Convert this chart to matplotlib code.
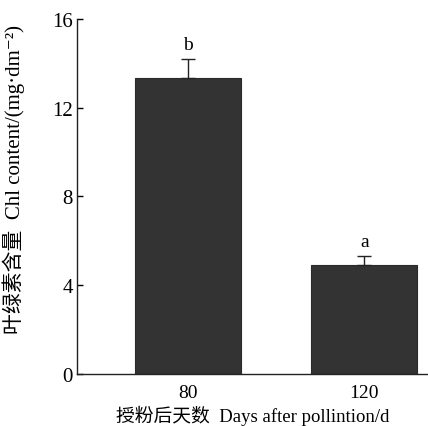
import matplotlib
matplotlib.use("Agg")
import matplotlib.pyplot as plt

days = ["80", "120"]
chl = [13.35, 4.92]
err = [0.85, 0.40]
letters = ["b", "a"]

fonts = ["Liberation Serif", "Noto Sans CJK SC", "DejaVu Serif"]
plt.rcParams["font.family"] = fonts

fig = plt.figure(figsize=(4.28, 4.27), dpi=100)
ax = fig.add_axes([0.180, 0.122, 0.82, 0.831])

x = list(range(len(days)))
ax.bar(x, chl, width=0.6, color="#333333", edgecolor="#2a2a2a", linewidth=0.8,
       yerr=[[0] * len(err), err], capsize=5,
       error_kw={"ecolor": "#222222", "elinewidth": 1.0, "capthick": 1.0})

for xi, v, e, lab in zip(x, chl, err, letters):
    ax.text(xi, v + e + 0.25, lab, ha="center", va="bottom", fontsize=14)

ax.set_xlim(-0.625, 1.36)
ax.set_ylim(0, 16)
ax.set_yticks([0, 4, 8, 12, 16])
ax.set_xticks(x)
ax.set_xticklabels(days)

ax.spines["top"].set_visible(False)
ax.spines["right"].set_visible(False)
for s in ["left", "bottom"]:
    ax.spines[s].set_linewidth(1.0)
    ax.spines[s].set_color("#222222")

ax.tick_params(axis="y", direction="in", length=4, width=1.0, labelsize=15, pad=3)
ax.tick_params(axis="x", length=0, labelsize=14, pad=7)

ax.set_xlabel("授粉后天数  Days after pollintion/d", fontsize=13.5, labelpad=3)
ax.set_ylabel("叶绿素含量  Chl content/(mg·dm⁻²)", fontsize=15, va="center")
ax.yaxis.set_label_coords(-0.18, 0.55)

fig.savefig("out.png", dpi=100)
